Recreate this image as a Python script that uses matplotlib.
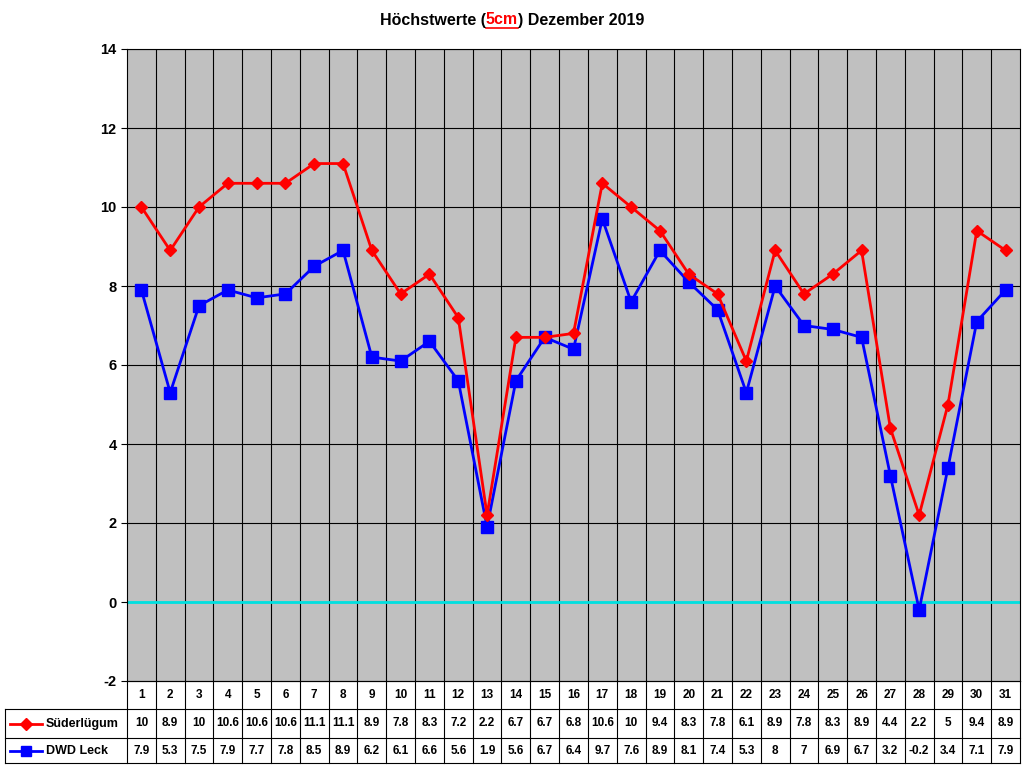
import matplotlib
matplotlib.use("Agg")
import matplotlib.pyplot as plt
from matplotlib.lines import Line2D
import matplotlib.transforms as mtrans

plt.rcParams['font.family'] = ['Liberation Sans', 'DejaVu Sans']
plt.rcParams['axes.unicode_minus'] = False

days = list(range(1, 32))
sued = [10, 8.9, 10, 10.6, 10.6, 10.6, 11.1, 11.1, 8.9, 7.8, 8.3, 7.2, 2.2, 6.7, 6.7, 6.8,
        10.6, 10, 9.4, 8.3, 7.8, 6.1, 8.9, 7.8, 8.3, 8.9, 4.4, 2.2, 5, 9.4, 8.9]
dwd = [7.9, 5.3, 7.5, 7.9, 7.7, 7.8, 8.5, 8.9, 6.2, 6.1, 6.6, 5.6, 1.9, 5.6, 6.7, 6.4,
       9.7, 7.6, 8.9, 8.1, 7.4, 5.3, 8, 7, 6.9, 6.7, 3.2, -0.2, 3.4, 7.1, 7.9]
names = ["Süderlügum", "DWD Leck"]

W, H = 1024, 768
fig = plt.figure(figsize=(W/100, H/100), dpi=100)
L, R, T, B = 127, 1020, 49, 681
ax = fig.add_axes([L/W, (H-B)/H, (R-L)/W, (B-T)/H])
ax.set_facecolor("#c0c0c0")
ax.set_xlim(0.5, 31.5)
ax.set_ylim(-2, 14)
ax.set_yticks(range(-2, 15, 2))
ax.tick_params(axis="y", labelsize=10.5, length=4)
for t in ax.get_yticklabels():
    t.set_fontweight("bold")
ax.set_xticks([])
for y in range(0, 15, 2):
    ax.axhline(y, color="black", lw=0.8, zorder=1)
for x in range(1, 31):
    ax.axvline(x + 0.5, color="black", lw=0.8, zorder=1)
ax.axhline(0, color="#00e0e0", lw=2, zorder=2)
for s in ax.spines.values():
    s.set_linewidth(0.8)
ax.plot(days, sued, color="#ff0000", lw=2, marker="D", ms=6, zorder=4)
ax.plot(days, dwd, color="#0000ff", lw=2, marker="s", ms=8, zorder=3)
ax.set_ylabel("°C", fontsize=11, fontweight="bold", labelpad=70)

# Title
r = fig.canvas.get_renderer()
y_t = 1 - 20/H
parts = [("Höchstwerte (", "black"), ("5cm", "#ff0000"), (") Dezember 2019", "black")]
texts = [fig.text(0, y_t, p, color=c, fontsize=11.5, fontweight="bold", va="center") for p, c in parts]
widths = [t.get_window_extent(r).width for t in texts]
x0 = W / 2 - sum(widths) / 2
for t, w in zip(texts, widths):
    t.set_x(x0 / W)
    if t.get_text() == "5cm":
        ext = t.get_window_extent(r)
        fig.add_artist(Line2D([x0/W, (x0+w)/W], [(ext.y0)/H]*2, color="#ff0000", lw=1.2))
    x0 += w

# Table
tr = mtrans.blended_transform_factory(ax.transData, fig.transFigure)
rows = [681, 709, 738, 763]
xl = 5
def fy(p): return 1 - p/H
for p in rows[1:]:
    fig.add_artist(Line2D([xl/W, R/W], [fy(p)]*2, color="black", lw=0.8))
fig.add_artist(Line2D([L/W, R/W], [fy(rows[0])]*2, color="black", lw=0.8))
fig.add_artist(Line2D([xl/W, xl/W], [fy(rows[1]), fy(rows[3])], color="black", lw=0.8))
fig.add_artist(Line2D([L/W, L/W], [fy(rows[0]), fy(rows[3])], color="black", lw=0.8))
for x in range(1, 32):
    fig.add_artist(Line2D([x + 0.5]*2, [fy(rows[0]), fy(rows[3])], color="black", lw=0.8, transform=tr))
for i, d in enumerate(days):
    fig.text(d, fy((rows[0]+rows[1])/2), str(d), transform=tr, ha="center", va="center", fontsize=8.5, fontweight="bold")
    fig.text(d, fy((rows[1]+rows[2])/2), f"{sued[i]:g}", transform=tr, ha="center", va="center", fontsize=8.5, fontweight="bold")
    fig.text(d, fy((rows[2]+rows[3])/2), f"{dwd[i]:g}", transform=tr, ha="center", va="center", fontsize=8.5, fontweight="bold")
for k, (nm, col, mk, ms) in enumerate([(names[0], "#ff0000", "D", 6), (names[1], "#0000ff", "s", 7)]):
    yc = fy((rows[k+1]+rows[k+2])/2)
    fig.add_artist(Line2D([10/W, 42/W], [yc, yc], color=col, lw=2))
    fig.add_artist(Line2D([26/W], [yc], color=col, marker=mk, ms=ms))
    fig.text(46/W, yc, nm, va="center", fontsize=9, fontweight="bold")

fig.savefig("out.png", dpi=100)
